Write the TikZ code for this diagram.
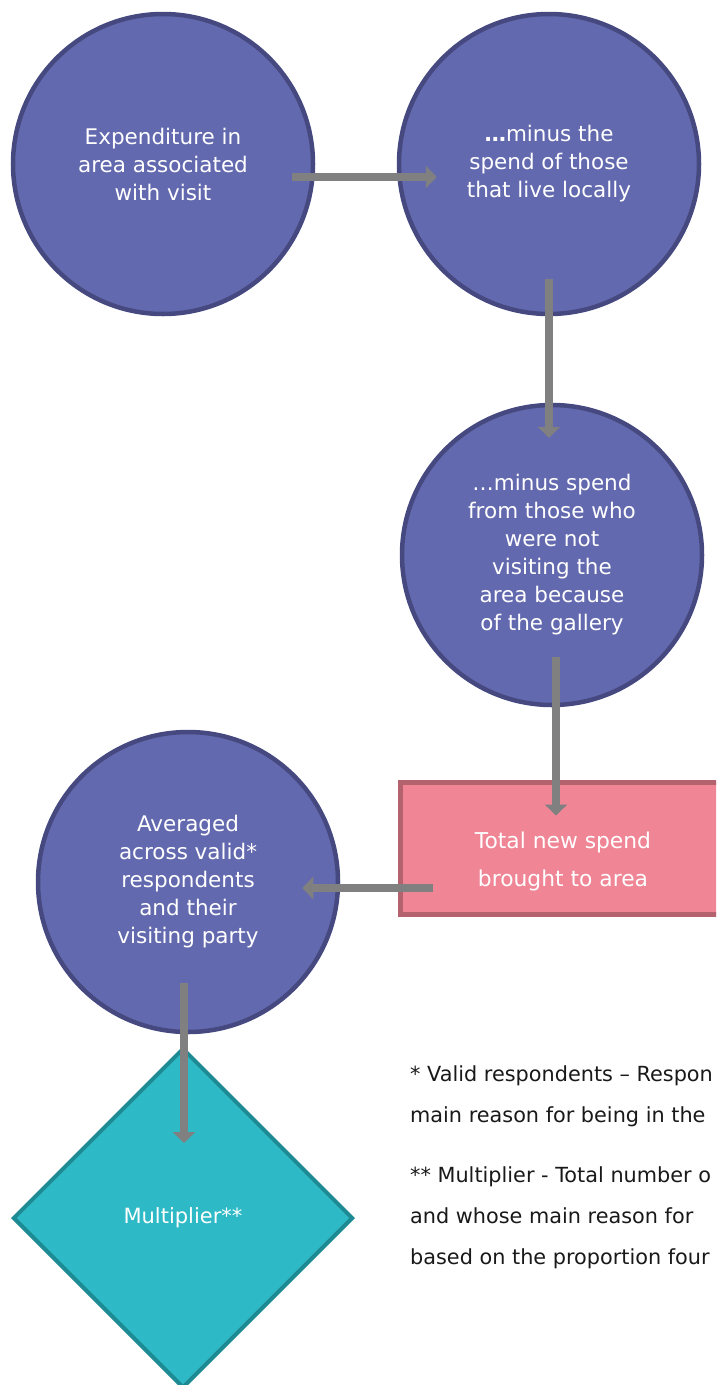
\documentclass[tikz,border=0pt]{standalone}
\usepackage{fontspec}
\setmainfont{DejaVu Sans}
\usetikzlibrary{shapes.geometric,arrows.meta}
\definecolor{bubblefill}{RGB}{99,105,174}
\definecolor{bubbleline}{RGB}{70,73,128}
\definecolor{spendfill}{RGB}{239,133,149}
\definecolor{spendline}{RGB}{179,98,110}
\definecolor{multfill}{RGB}{45,185,197}
\definecolor{multline}{RGB}{30,139,148}
\definecolor{flowgray}{RGB}{128,128,128}
\tikzstyle{bubble}=[circle,draw=bubbleline,fill=bubblefill,line width=4.5pt,minimum size=300pt,inner sep=0pt,text=white,align=center,font=\fontsize{21.5}{28}\selectfont]
\tikzstyle{spendbox}=[rectangle,draw=spendline,fill=spendfill,line width=5pt,minimum width=326pt,minimum height=132pt,text=white,align=center,font=\fontsize{21.8}{38}\selectfont]
\tikzstyle{multbox}=[diamond,aspect=1,draw=multline,fill=multfill,line width=4pt,minimum width=340pt,minimum height=340pt,inner sep=0pt,text=white,font=\fontsize{21}{24}\selectfont]
\tikzstyle{flow}=[draw=flowgray,line width=8pt,-{Triangle[length=11pt,width=22pt]}]
\tikzstyle{note}=[anchor=north west,align=left,inner sep=0pt,text=black!90,font=\fontsize{20.8}{41}\selectfont]

\begin{document}
\begin{tikzpicture}[x=1pt,y=-1pt]
		\clip (0,0) rectangle (716,1385);
		\useasboundingbox (0,0) rectangle (716,1385);
		\node [bubble] (spend) at (163,164) {Expenditure in\\area associated\\with visit};
		\node [bubble] (locals) at (549,164) {{\bfseries\ldots}minus the\\spend of those\\that live locally};
		\node [bubble] (gallery) at (552,555) {\ldots minus spend\\from those who\\were not\\visiting the\\area because\\of the gallery};
		\node [spendbox] (total) at (563,848) {\raisebox{0pt}[44pt]{Total new spend}\\brought to area};
		\node [bubble] (average) at (188,882) {Averaged\\across valid*\\respondents\\and their\\visiting party};
		\node [multbox] (mult) at (183,1218) {Multiplier**};
		\node [note] (validnote) at (410,1065) {* Valid respondents -- Respon\\main reason for being in the};
		\node [note] (multnote) at (410,1166) {** Multiplier - Total number o\\and whose main reason for\\based on the proportion four};
		% connectors
		\draw [flow] ([shift={(-23,13)}]spend.east) -- ([shift={(40,13)}]locals.west);
		\draw [flow] ([shift={(0,-37)}]locals.south) -- ([shift={(-3,35)}]gallery.north);
		\draw [flow] ([shift={(4,-50)}]gallery.south) -- ([shift={(-7,36)}]total.north);
		\draw [flow] ([shift={(35,40)}]total.west) -- ([shift={(-38,6)}]average.east);
		\draw [flow] ([shift={(-4,-51)}]average.south) -- ([shift={(1,97)}]mult.north);
\end{tikzpicture}
\end{document}
